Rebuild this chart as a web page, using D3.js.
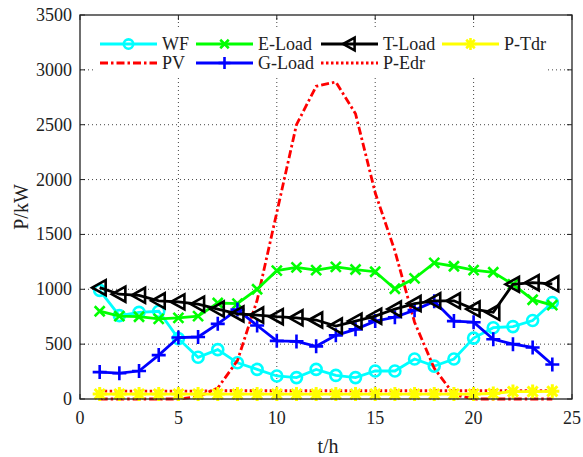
<!DOCTYPE html>
<html>
<head>
<meta charset="utf-8">
<script src="https://cdn.jsdelivr.net/npm/d3@7"></script>
<style>
  body { margin: 0; background: #fff; }
  svg text { font-family: "Liberation Serif", "Times New Roman", serif; fill: #222; }
</style>
</head>
<body>
<div id="chart"></div>
<script>
// hourly values (kW)
var hours = [1, 2, 3, 4, 5, 6, 7, 8, 9, 10, 11, 12, 13, 14, 15, 16, 17, 18, 19, 20, 21, 22, 23, 24];
var wf    = [990, 760, 790, 800, 550, 380, 450, 330, 270, 210, 195, 270, 215, 195, 255, 255, 365, 300, 365, 555, 650, 660, 715, 880];
var pv    = [0, 0, 0, 0, 0, 20, 100, 350, 900, 1700, 2500, 2850, 2890, 2600, 1880, 1350, 700, 280, 40, 0, 0, 0, 0, 0];
var eLoad = [800, 755, 750, 730, 740, 755, 875, 870, 1000, 1170, 1200, 1175, 1205, 1180, 1160, 1005, 1100, 1240, 1210, 1175, 1155, 1045, 905, 855];
var gLoad = [245, 235, 255, 400, 560, 565, 685, 815, 670, 530, 525, 480, 580, 635, 710, 745, 810, 890, 710, 700, 545, 500, 470, 315];
var tLoad = [1015, 955, 945, 895, 885, 865, 820, 775, 765, 750, 740, 720, 665, 710, 755, 820, 870, 895, 895, 820, 790, 1045, 1060, 1050];
var pEdr  = [72, 72, 72, 72, 72, 72, 75, 75, 75, 75, 75, 75, 75, 75, 75, 75, 75, 75, 75, 75, 75, 75, 75, 75];
var pTdr  = [45, 45, 45, 45, 45, 45, 45, 45, 45, 45, 45, 45, 45, 45, 45, 45, 45, 45, 45, 45, 50, 68, 68, 70];

var xTicks = [0, 5, 10, 15, 20, 25];
var yTicks = [0, 500, 1000, 1500, 2000, 2500, 3000, 3500];

// plot order (same as legend, column by column)
var series = [
  { name: "WF",     values: wf,    color: "#00ffff", marker: "circle",   dash: null },
  { name: "PV",     values: pv,    color: "#ff0000", marker: null,       dash: "8,3,2.5,3" },
  { name: "E-Load", values: eLoad, color: "#00ff00", marker: "x",        dash: null },
  { name: "G-Load", values: gLoad, color: "#0000ff", marker: "plus",     dash: null },
  { name: "T-Load", values: tLoad, color: "#000000", marker: "triangle", dash: null },
  { name: "P-Edr",  values: pEdr,  color: "#ff0000", marker: null,       dash: "2.5,2.5" },
  { name: "P-Tdr",  values: pTdr,  color: "#ffff00", marker: "star",     dash: null }
];

var width = 583, height = 457;
var margin = { left: 80, right: 11, top: 15, bottom: 58 };

var svg = d3.select("#chart").append("svg")
  .attr("width", width)
  .attr("height", height);

svg.append("rect").attr("width", width).attr("height", height).attr("fill", "#fff");

var x = d3.scaleLinear().domain([0, 25]).range([margin.left, width - margin.right]);
var y = d3.scaleLinear().domain([0, 3500]).range([height - margin.bottom, margin.top]);

var x0 = x.range()[0], x1 = x.range()[1], y0 = y.range()[0], y1 = y.range()[1];

// dotted grid
var grid = svg.append("g");
grid.selectAll(".gx").data(xTicks.slice(1, -1)).enter().append("line")
  .attr("x1", function (d) { return x(d); }).attr("x2", function (d) { return x(d); })
  .attr("y1", y0).attr("y2", y1)
  .attr("stroke", "#444").attr("stroke-width", 1).attr("stroke-dasharray", "1,3");
grid.selectAll(".gy").data(yTicks.slice(1, -1)).enter().append("line")
  .attr("x1", x0).attr("x2", x1)
  .attr("y1", function (d) { return y(d); }).attr("y2", function (d) { return y(d); })
  .attr("stroke", "#444").attr("stroke-width", 1).attr("stroke-dasharray", "1,3");

// marker shapes
function markerPath(type, r) {
  var p = d3.path();
  if (type === "circle") {
    p.moveTo(r, 0); p.arc(0, 0, r, 0, 2 * Math.PI);
  } else if (type === "x") {
    p.moveTo(-r, -r); p.lineTo(r, r); p.moveTo(-r, r); p.lineTo(r, -r);
  } else if (type === "plus") {
    p.moveTo(-r, 0); p.lineTo(r, 0); p.moveTo(0, -r); p.lineTo(0, r);
  } else if (type === "triangle") {
    p.moveTo(-r, 0); p.lineTo(r * 0.8, -r); p.lineTo(r * 0.8, r); p.closePath();
  } else if (type === "star") {
    p.moveTo(-r, 0); p.lineTo(r, 0); p.moveTo(0, -r); p.lineTo(0, r);
    var k = r * 0.72;
    p.moveTo(-k, -k); p.lineTo(k, k); p.moveTo(-k, k); p.lineTo(k, -k);
  }
  return p.toString();
}
var markerSize = { circle: 5.5, x: 5, plus: 7, triangle: 7.5, star: 7 };

var line = d3.line()
  .x(function (d, i) { return x(hours[i]); })
  .y(function (d) { return y(d); });

var plot = svg.append("g");
series.forEach(function (s) {
  var g = plot.append("g");
  g.append("path")
    .datum(s.values)
    .attr("d", line)
    .attr("fill", "none")
    .attr("stroke", s.color)
    .attr("stroke-width", 2.8)
    .attr("stroke-dasharray", s.dash);
  if (s.marker) {
    g.selectAll(".m").data(s.values).enter().append("path")
      .attr("transform", function (d, i) { return "translate(" + x(hours[i]) + "," + y(d) + ")"; })
      .attr("d", markerPath(s.marker, markerSize[s.marker]))
      .attr("fill", "none")
      .attr("stroke", s.color)
      .attr("stroke-width", s.marker === "star" ? 3 : 2.6);
  }
});

// legend (white box, no border)
var legend = svg.append("g");
legend.append("rect")
  .attr("x", 93).attr("y", 29).attr("width", 455).attr("height", 48)
  .attr("fill", "#fff");
var colX = [100, 196, 321, 442];
var rowY = [44, 63];
series.forEach(function (s, i) {
  var col = Math.floor(i / 2), row = i % 2;
  var lx = colX[col], ly = rowY[row];
  var item = legend.append("g");
  item.append("line")
    .attr("x1", lx).attr("x2", lx + 57).attr("y1", ly).attr("y2", ly)
    .attr("stroke", s.color).attr("stroke-width", 2.8)
    .attr("stroke-dasharray", s.dash);
  if (s.marker) {
    item.append("path")
      .attr("transform", "translate(" + (lx + 28.5) + "," + ly + ")")
      .attr("d", markerPath(s.marker, markerSize[s.marker] * 0.85))
      .attr("fill", "none").attr("stroke", s.color)
      .attr("stroke-width", 2.6);
  }
  item.append("text")
    .attr("x", lx + 62).attr("y", ly + 6)
    .attr("font-size", 18)
    .text(s.name);
});

// axes box with inward ticks
var axes = svg.append("g");
axes.append("rect")
  .attr("x", x0).attr("y", y1).attr("width", x1 - x0).attr("height", y0 - y1)
  .attr("fill", "none").attr("stroke", "#222").attr("stroke-width", 1.3);

var tickLen = 5;
xTicks.forEach(function (t) {
  axes.append("line").attr("x1", x(t)).attr("x2", x(t)).attr("y1", y0).attr("y2", y0 - tickLen)
    .attr("stroke", "#222");
  axes.append("line").attr("x1", x(t)).attr("x2", x(t)).attr("y1", y1).attr("y2", y1 + tickLen)
    .attr("stroke", "#222");
  axes.append("text")
    .attr("x", x(t)).attr("y", y0 + 25)
    .attr("text-anchor", "middle").attr("font-size", 18)
    .text(t);
});
yTicks.forEach(function (t) {
  axes.append("line").attr("x1", x0).attr("x2", x0 + tickLen).attr("y1", y(t)).attr("y2", y(t))
    .attr("stroke", "#222");
  axes.append("line").attr("x1", x1).attr("x2", x1 - tickLen).attr("y1", y(t)).attr("y2", y(t))
    .attr("stroke", "#222");
  axes.append("text")
    .attr("x", x0 - 8).attr("y", y(t) + 6)
    .attr("text-anchor", "end").attr("font-size", 18)
    .text(t);
});

// axis titles
svg.append("text")
  .attr("x", (x0 + x1) / 2 + 2).attr("y", 453)
  .attr("text-anchor", "middle").attr("font-size", 20)
  .text("t/h");
svg.append("text")
  .attr("transform", "translate(28," + (y0 + y1) / 2 + ") rotate(-90)")
  .attr("text-anchor", "middle").attr("font-size", 20)
  .text("P/kW");
</script>
</body>
</html>
